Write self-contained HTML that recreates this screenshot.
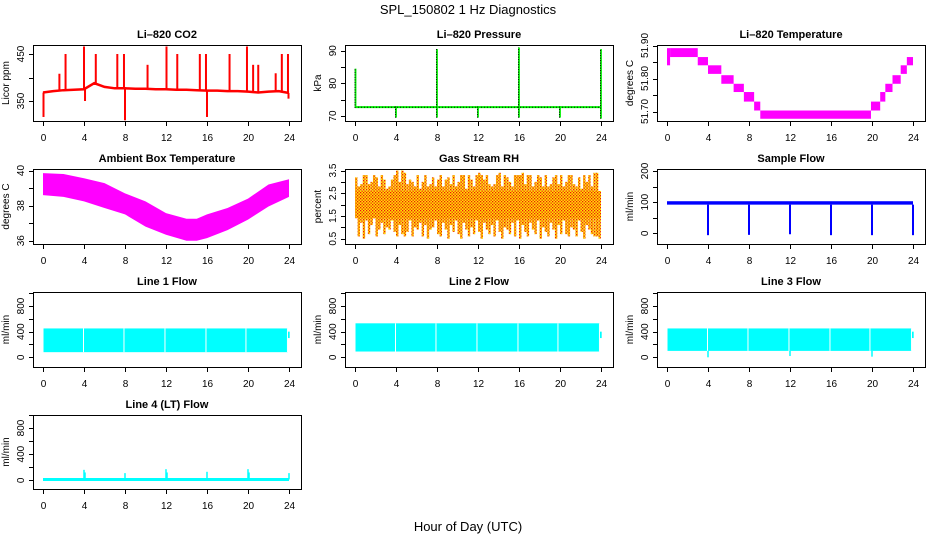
<!DOCTYPE html>
<html><head><meta charset="utf-8"><style>
html,body{margin:0;padding:0;background:#fff}
svg{display:block;font-family:"Liberation Sans",Arial,sans-serif}
</style></head><body>
<svg id="c" width="936" height="540" viewBox="0 0 936 540">
<defs><pattern id="rhpat" width="3" height="3" patternUnits="userSpaceOnUse"><rect width="3" height="3" fill="#ffe600"/><rect x="0" y="0" width="1.3" height="1.3" fill="#f01010"/><rect x="1.5" y="1.5" width="1.3" height="1.3" fill="#f01010"/></pattern></defs>
<text x="468" y="14" text-anchor="middle" font-size="13">SPL_150802  1 Hz Diagnostics</text>
<text x="468" y="531" text-anchor="middle" font-size="13">Hour of Day (UTC)</text>
</svg>
<script>
const xTicks=[0,4,8,12,16,20,24];
// CO2
const co2Hours=[0,1,2,3,4,5,6,7,8,9,10,11,12,13,14,15,16,17,18,19,20,21,22,23,24];
const co2Base=[368,371,373,374,375,388,380,377,377,376,376,375,375,374,374,373,372,372,371,371,370,368,370,371,367];
const co2SpikeHours=[0.05,1.6,2.2,4.0,4.1,5.15,7.25,7.9,8.0,10.2,12.05,13.1,15.3,15.9,16.0,18.2,19.9,20.5,21.0,22.7,23.3,23.9,23.95];
const co2SpikeVals=[316,408,450,466,350,450,450,450,309,427,466,450,450,450,316,450,466,427,427,409,450,450,355];
// Pressure
const pressBase=72.7;
const pressSpikeHours=[0.05,4,8,12,16,20,24];
const pressSpikeTop=[84.5,73,90.5,73,91,73,90.5];
const pressSpikeBottom=[72.5,69.5,69.5,69.5,69.5,69.5,69.2];
// Li-820 temperature steps
const tempStart=[0,0.3,3,4,5.3,6.5,7.5,8.5,9.1,19.9,20.8,21.3,22,22.8,23.4];
const tempEnd=[0.3,3,4,5.3,6.5,7.5,8.5,9.1,19.9,20.8,21.3,22,22.8,23.4,24];
const tempLo=[51.84,51.865,51.84,51.814,51.784,51.759,51.73,51.703,51.678,51.703,51.73,51.759,51.784,51.814,51.84];
const tempHi=[51.892,51.892,51.865,51.84,51.81,51.784,51.759,51.73,51.703,51.73,51.759,51.784,51.81,51.84,51.865];
// Ambient box temperature
const ambHours=[0,2,4,6,8,10,12,14,15,16,18,20,22,24];
const ambHi=[39.85,39.8,39.56,39.28,38.7,38.24,37.57,37.25,37.25,37.5,37.86,38.4,39.2,39.5];
const ambLo=[38.6,38.5,38.24,37.86,37.5,36.8,36.34,36.0,36.0,36.15,36.6,37.2,37.95,38.5];
// Gas stream RH (quarter-hour bins)
const rhHi=[3.2,2.8,2.9,3.3,3.3,2.9,3.0,3.3,3.2,2.8,3.3,3.1,2.7,2.8,3.1,3.3,3.5,3.0,3.5,3.4,2.9,3.1,3.0,2.8,3.3,2.7,3.0,3.3,2.8,2.9,3.2,2.8,3.1,3.3,2.8,3.1,3.2,2.9,3.3,2.8,3.0,3.3,3.3,2.7,3.3,3.1,2.8,3.3,3.4,3.3,3.1,3.3,2.9,2.8,2.9,3.3,3.4,2.8,3.3,3.2,3.0,2.8,3.3,3.3,3.3,3.4,2.9,3.3,3.3,2.8,3.0,3.3,3.2,2.8,3.3,2.8,2.9,3.2,3.3,2.9,3.3,2.8,3.0,3.3,3.3,2.9,2.8,3.2,2.7,3.3,3.0,3.3,2.8,3.4,3.4,2.5];
const rhLo=[1.5,0.6,1.2,0.5,1.3,0.7,1.1,1.4,0.6,0.9,1.2,0.7,1.0,0.9,1.3,0.8,0.6,1.1,0.7,0.6,0.8,1.3,0.6,1.0,0.9,1.2,0.6,1.1,0.5,0.9,1.0,1.3,0.7,0.6,1.2,0.9,0.5,1.1,0.8,1.3,0.7,0.5,1.2,0.9,0.6,1.0,0.7,1.3,0.8,0.5,1.2,0.9,0.7,1.1,0.6,1.3,0.8,0.5,1.0,0.9,0.7,1.2,0.6,1.3,0.5,1.1,0.8,0.6,1.2,0.9,0.7,1.3,0.5,1.0,0.8,0.6,1.2,0.9,0.5,1.1,0.7,1.3,0.7,0.6,1.0,0.9,0.6,1.3,0.8,0.5,1.1,0.9,0.7,0.6,0.6,0.5];
// Sample flow
const sfBaseLo=92, sfBaseHi=103;
const sfDipHours=[4,8,12,16,20,24];
const sfDipVals=[-6,-5,-3,-6,-6,-6];
// Line flows
const flowGapHours=[3.95,7.9,11.9,15.9,19.8,23.85];
const l1Lo=80, l1Hi=450;
const l2Lo=90, l2Hi=530;
const l3Lo=100, l3Hi=450;
const l3DipHours=[4,12,20];
const l3DipVals=[0,20,10];
const l4Base=12;
const l4SpikeHours=[4,4.1,8,12,12.1,16,20,20.1,24];
const l4SpikeVals=[160,120,110,170,120,130,170,120,110];

const svg=document.getElementById('c');
const NS='http://www.w3.org/2000/svg';
function mk(tag,attrs,parent){const e=document.createElementNS(NS,tag);for(const k in attrs)e.setAttribute(k,attrs[k]);(parent||svg).appendChild(e);return e;}
const rowTop=[45,169,292,415],rowBot=[121,244,367,489];
const colLeft=[33,345,657];
const flowTicks=[0,200,400,600,800,1000];
const flowLabels=[0,400,800];
function panel(name,title,col,row,yt,ylab,v1,p1,v2,p2,ticks,labels){
  const g=mk('g',{});
  
  
  const L=colLeft[col],R=L+268,T=rowTop[row],B=rowBot[row];
  const x0=L+10,x1=L+256;
  const X=h=>x0+(x1-x0)*h/24;
  const Y=v=>p1+(v-v1)*(p2-p1)/(v2-v1);
  const t=mk('text',{x:(L+R)/2,y:T-7,'text-anchor':'middle','font-size':11,'font-weight':'bold'},g);t.textContent=title;
  
  
  const plot=mk('g',{},g);
  
  
  const cp=mk('clipPath',{id:'cp'+name},g);mk('rect',{x:L,y:T,width:R-L,height:B-T},cp);
  plot.setAttribute('clip-path','url(#cp'+name+')');
  const box=mk('rect',{x:L+.5,y:T+.5,width:R-L,height:B-T,fill:'none',stroke:'#000'},g);
  
  
  const xa=mk('g',{},g);
  
  
  mk('line',{x1:X(0),x2:X(24),y1:B+.5,y2:B+.5,stroke:'#000'},xa);
  xTicks.forEach(h=>{mk('line',{x1:X(h)+.5,x2:X(h)+.5,y1:B,y2:B+5,stroke:'#000'},xa);
    const tx=mk('text',{x:X(h)+.5,y:B+20,'text-anchor':'middle','font-size':10},xa);tx.textContent=h;});
  const ya=mk('g',{},g);
  
  
  ticks.forEach(v=>{const y=Math.round(Y(v))+.5;mk('line',{x1:L-4,x2:L,y1:y,y2:y,stroke:'#000'},ya);});
  labels.forEach(v=>{const y=Y(v);const tx=mk('text',{x:L-9,y:y,'text-anchor':'middle','font-size':10,transform:`rotate(-90 ${L-9} ${y})`},ya);tx.textContent=v;});
  const yl=mk('text',{x:L-24,y:(T+B)/2,'text-anchor':'middle','font-size':10,transform:`rotate(-90 ${L-24} ${(T+B)/2})`},g);yl.textContent=ylab;
  
  
  return {g:plot,X,Y};
}
function vline(p,h,a,b,col,w){mk('line',{x1:p.X(h),x2:p.X(h),y1:p.Y(a),y2:p.Y(b),stroke:col,'stroke-width':w||1.5},p.g);}
function poly(p,hs,vs,col,w){mk('polyline',{points:hs.map((h,i)=>p.X(h)+','+p.Y(vs[i])).join(' '),fill:'none',stroke:col,'stroke-width':w},p.g);}

// P1 CO2
let p=panel('co2-panel','Li\u2013820 CO2',0,0,'','Licor ppm',450,54,350,101,[350,400,450],[350,450]);
poly(p,co2Hours,co2Base,'#ff0000',2.5);
co2SpikeHours.forEach((h,i)=>{const b=co2Base[Math.min(24,Math.round(h))];vline(p,h,b,co2SpikeVals[i],'#ff0000',2);});
// P2 pressure
p=panel('pressure-panel','Li\u2013820 Pressure',1,0,'','kPa',90,50.7,70,116,[70,75,80,85,90],[70,80,90]);
mk('line',{x1:p.X(0),x2:p.X(24),y1:p.Y(pressBase),y2:p.Y(pressBase),stroke:'#00ee00','stroke-width':2},p.g);
mk('line',{x1:p.X(0),x2:p.X(24),y1:p.Y(pressBase),y2:p.Y(pressBase),stroke:'#000','stroke-width':0.8,'stroke-dasharray':'1 2'},p.g);
pressSpikeHours.forEach((h,i)=>{vline(p,h,pressSpikeBottom[i],pressSpikeTop[i],'#00ee00',1.8);
  mk('line',{x1:p.X(h)-.5,x2:p.X(h)-.5,y1:p.Y(pressSpikeBottom[i]),y2:p.Y(pressSpikeTop[i]),stroke:'#000','stroke-width':1,'stroke-dasharray':'1 1.5'},p.g);});
// P3 temperature
p=panel('li820-temperature-panel','Li\u2013820 Temperature',2,0,'','degrees C',51.90,45.5,51.70,111.5,[51.70,51.75,51.80,51.85,51.90],['51.70','51.80','51.90']);
tempStart.forEach((s,i)=>{mk('rect',{x:p.X(s),y:p.Y(tempHi[i]),width:p.X(tempEnd[i])-p.X(s),height:p.Y(tempLo[i])-p.Y(tempHi[i]),fill:'#ff00ff'},p.g);});
// P4 ambient
p=panel('ambient-temperature-panel','Ambient Box Temperature',0,1,'','degrees C',40,170.5,36,240.7,[36,37,38,39,40],[36,38,40]);
mk('polygon',{points:ambHours.map((h,i)=>p.X(h)+','+p.Y(ambHi[i])).concat(ambHours.slice().reverse().map((h,j)=>p.X(h)+','+p.Y(ambLo[ambHours.length-1-j]))).join(' '),fill:'#ff00ff'},p.g);
// P5 RH
p=panel('rh-panel','Gas Stream RH',1,1,'','percent',3.5,170.5,0.5,238.7,[0.5,1,1.5,2,2.5,3,3.5],['0.5','1.5','2.5','3.5']);
mk('rect',{x:p.X(0),y:p.Y(2.6),width:p.X(24)-p.X(0),height:p.Y(1.4)-p.Y(2.6),fill:'url(#rhpat)'},p.g);
rhHi.forEach((v,i)=>{const h=i*0.25+0.12;mk('rect',{x:p.X(h)-1.2,y:p.Y(v),width:2.4,height:p.Y(rhLo[i])-p.Y(v),fill:'url(#rhpat)'},p.g);});
// P6 sample flow
p=panel('sample-flow-panel','Sample Flow',2,1,'','ml/min',200,171,0,233.3,[0,50,100,150,200],[0,100,200]);
mk('rect',{x:p.X(0),y:p.Y(sfBaseHi),width:p.X(24)-p.X(0),height:p.Y(sfBaseLo)-p.Y(sfBaseHi),fill:'#0000ff'},p.g);
sfDipHours.forEach((h,i)=>vline(p,h,sfBaseLo,sfDipVals[i],'#0000ff',2));
// Flows
function flow(name,title,col,row,lo,hi){
  const pp=row===2?panel(name,title,col,row,'','ml/min',800,306,0,357.3,flowTicks,flowLabels):panel(name,title,col,row,'','ml/min',800,428,0,480.3,flowTicks,flowLabels);
  if(lo!==null){mk('rect',{x:pp.X(0.05),y:pp.Y(hi),width:pp.X(23.9)-pp.X(0.05),height:pp.Y(lo)-pp.Y(hi),fill:'#00ffff'},pp.g);
    vline(pp,23.97,300,400,'#00ffff',2);
    flowGapHours.forEach(h=>vline(pp,h,lo,hi,'#ffffff',1));}
  return pp;
}
flow('line1-flow-panel','Line 1 Flow',0,2,l1Lo,l1Hi);
flow('line2-flow-panel','Line 2 Flow',1,2,l2Lo,l2Hi);
p=flow('line3-flow-panel','Line 3 Flow',2,2,l3Lo,l3Hi);
l3DipHours.forEach((h,i)=>vline(p,h,l3Lo,l3DipVals[i],'#00ffff',1.5));
p=flow('line4-flow-panel','Line 4 (LT) Flow',0,3,null,null);
mk('line',{x1:p.X(0),x2:p.X(24),y1:p.Y(l4Base),y2:p.Y(l4Base),stroke:'#00ffff','stroke-width':3},p.g);
l4SpikeHours.forEach((h,i)=>vline(p,h,l4Base,l4SpikeVals[i],'#00ffff',1.5));
</script>
</body></html>
